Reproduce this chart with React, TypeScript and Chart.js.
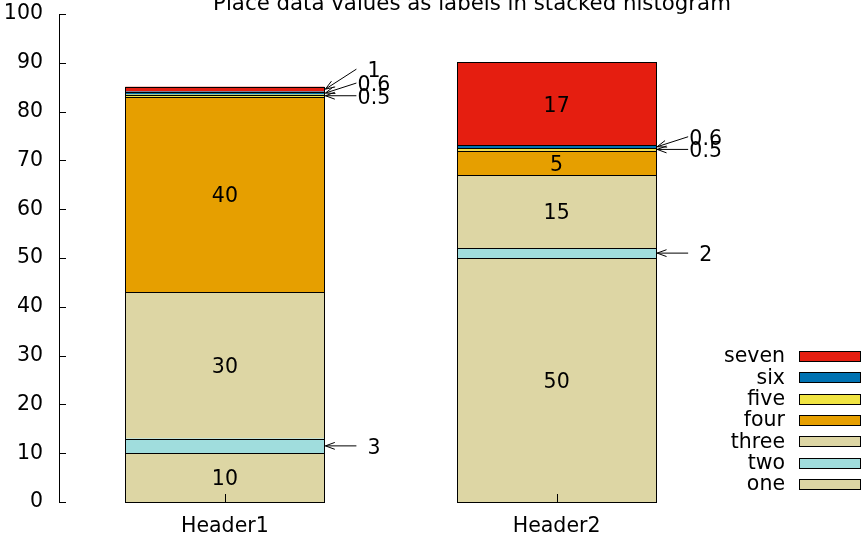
import React, { useEffect, useRef } from 'react';
import { Chart, registerables } from 'chart.js';

Chart.register(...registerables);

const categories = ['Header1', 'Header2'];
const seriesNames = ['one', 'two', 'three', 'four', 'five', 'six', 'seven'];
const one = [10, 50];
const two = [3, 2];
const three = [30, 15];
const four = [40, 5];
const five = [0.5, 0.5];
const six = [0.6, 0.6];
const seven = [1, 17];
const seriesValues = [one, two, three, four, five, six, seven];
const seriesColors = ['#ddd6a4', '#a0dddd', '#ddd6a4', '#e69f00', '#f0e442', '#0072b2', '#e51e10'];
const yTickValues = [0, 10, 20, 30, 40, 50, 60, 70, 80, 90, 100];
const titleText = 'Place data values as labels in stacked histogram';
const SMALL_LIMIT = 4;

const FONT = 'DejaVu Sans';
const FS = 20.5;

function drawArrow(ctx: CanvasRenderingContext2D, x0: number, y0: number, x1: number, y1: number) {
  ctx.beginPath();
  ctx.moveTo(x0, y0);
  ctx.lineTo(x1, y1);
  const ang = Math.atan2(y1 - y0, x1 - x0);
  const len = 10;
  const spread = 0.35;
  ctx.moveTo(x1 - len * Math.cos(ang - spread), y1 - len * Math.sin(ang - spread));
  ctx.lineTo(x1, y1);
  ctx.lineTo(x1 - len * Math.cos(ang + spread), y1 - len * Math.sin(ang + spread));
  ctx.stroke();
}

const decorPlugin = {
  id: 'decor',
  afterDatasetsDraw(chart: any) {
    const ctx: CanvasRenderingContext2D = chart.ctx;
    const area = chart.chartArea;
    const yScale = chart.scales.y;
    ctx.save();
    ctx.strokeStyle = '#000';
    ctx.lineWidth = 1;

    // bar outlines, crisp
    categories.forEach((_, i) => {
      seriesValues.forEach((_v, d) => {
        const el: any = chart.getDatasetMeta(d).data[i];
        const l = Math.round(el.x - el.width / 2) + 0.5;
        const r = Math.round(el.x + el.width / 2) + 0.5;
        const t = Math.round(el.y) + 0.5;
        const b = Math.round(el.base) + 0.5;
        ctx.strokeRect(l, t, r - l, b - t);
      });
    });

    // inward y ticks
    yTickValues.forEach((v) => {
      const y = Math.round(yScale.getPixelForValue(v)) + 0.5;
      ctx.beginPath();
      ctx.moveTo(area.left, y);
      ctx.lineTo(area.left + 7, y);
      ctx.stroke();
    });
    // inward x ticks at category centers
    const meta0 = chart.getDatasetMeta(0);
    categories.forEach((_, i) => {
      const x = Math.round(meta0.data[i].x) + 0.5;
      ctx.beginPath();
      ctx.moveTo(x, area.bottom);
      ctx.lineTo(x, area.bottom - 8);
      ctx.stroke();
    });

    // value labels
    ctx.fillStyle = '#000';
    ctx.font = `${FS}px "${FONT}"`;
    ctx.textBaseline = 'middle';
    ctx.textAlign = 'center';
    categories.forEach((_, i) => {
      let run = 0;
      seriesValues.forEach((vals, d) => {
        const el: any = chart.getDatasetMeta(d).data[i];
        const v = vals[i];
        const cy = (el.y + el.base) / 2;
        const right = el.x + el.width / 2;
        if (v >= SMALL_LIMIT) {
          run = 0;
          ctx.fillText(String(v), el.x, cy + 2.5);
        } else {
          const ly = cy - 10 * run;
          run += 1;
          ctx.fillText(String(v), right + 49.5, ly + 2.5);
          drawArrow(ctx, right + 32, ly, right + 1, cy);
        }
      });
    });

    // title
    ctx.font = `21.3px "${FONT}"`;
    ctx.textAlign = 'center';
    ctx.textBaseline = 'alphabetic';
    ctx.fillText(titleText, 472, 10);

    // legend
    ctx.font = `${FS}px "${FONT}"`;
    ctx.textAlign = 'right';
    ctx.textBaseline = 'middle';
    for (let r = 0; r < seriesNames.length; r++) {
      const d = seriesNames.length - 1 - r;
      const y = 356 + r * 21.3;
      ctx.fillStyle = '#000';
      ctx.fillText(seriesNames[d], 785, y + 1);
      const by = Math.round(y - 5) + 0.5;
      ctx.fillStyle = seriesColors[d];
      ctx.fillRect(799.5, by, 61, 10);
      ctx.strokeRect(799.5, by, 61, 10);
    }
    ctx.restore();
  },
};

export default function App() {
  const ref = useRef<HTMLCanvasElement | null>(null);
  useEffect(() => {
    if (!ref.current) return;
    const chart = new Chart(ref.current, {
      type: 'bar',
      data: {
        labels: categories,
        datasets: seriesNames.map((name, d) => ({
          label: name,
          data: seriesValues[d],
          backgroundColor: seriesColors[d],
          borderWidth: 0,
          borderSkipped: false,
          categoryPercentage: 1,
          barPercentage: 0.6,
        })),
      },
      options: {
        animation: false,
        responsive: false,
        maintainAspectRatio: false,
        layout: { padding: { top: 14, right: 140.5, bottom: 0, left: 0 } },
        plugins: {
          legend: { display: false },
          title: { display: false },
          tooltip: { enabled: false },
        },
        scales: {
          x: {
            stacked: true,
            grid: { display: false, drawTicks: false },
            border: { display: false },
            ticks: { color: '#000', font: { family: FONT, size: FS }, padding: 12 },
            afterFit: (s: any) => {
              s.height = 33;
              s.paddingLeft = 0;
              s.paddingRight = 0;
            },
          },
          y: {
            stacked: true,
            min: 0,
            max: 100,
            grid: { display: false, drawTicks: false },
            border: { display: true, color: '#000', width: 1 },
            ticks: { stepSize: 10, color: '#000', font: { family: FONT, size: FS }, padding: 16 },
            afterFit: (s: any) => {
              s.width = 59;
              s.paddingTop = 0;
              s.paddingBottom = 0;
            },
          },
        },
      },
      plugins: [decorPlugin],
    } as any);
    return () => chart.destroy();
  }, []);
  return (
    <div style={{ position: 'absolute', left: 0, top: 0, width: 863, height: 535, background: '#fff' }}>
      <canvas ref={ref} width={863} height={535} />
    </div>
  );
}
